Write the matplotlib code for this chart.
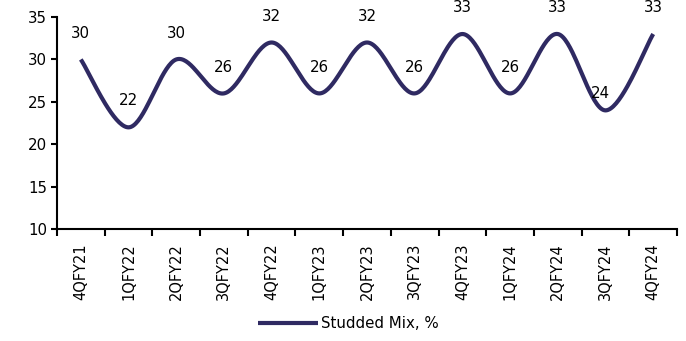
import matplotlib
matplotlib.use('Agg')
import matplotlib.pyplot as plt
import numpy as np

quarters = ['4QFY21', '1QFY22', '2QFY22', '3QFY22', '4QFY22', '1QFY23', '2QFY23',
            '3QFY23', '4QFY23', '1QFY24', '2QFY24', '3QFY24', '4QFY24']
studded_mix = [30, 22, 30, 26, 32, 26, 32, 26, 33, 26, 33, 24, 33]

LINE = '#2F2A62'
plt.rcParams['font.family'] = ['DejaVu Sans']


def smooth(xs, ys, steps=40):
    # Catmull-Rom style bezier smoothing (control points at +/- slope/6)
    xs = np.asarray(xs, float)
    ys = np.asarray(ys, float)
    n = len(xs)
    px = np.concatenate([[xs[0]], xs, [xs[-1]]])
    py = np.concatenate([[ys[0]], ys, [ys[-1]]])
    out_x, out_y = [], []
    t = np.linspace(0, 1, steps)
    for i in range(n - 1):
        p0x, p1x, p2x, p3x = px[i], px[i + 1], px[i + 2], px[i + 3]
        p0y, p1y, p2y, p3y = py[i], py[i + 1], py[i + 2], py[i + 3]
        c1x, c1y = p1x + (p2x - p0x) / 6, p1y + (p2y - p0y) / 6
        c2x, c2y = p2x - (p3x - p1x) / 6, p2y - (p3y - p1y) / 6
        bx = (1 - t)**3 * p1x + 3 * (1 - t)**2 * t * c1x + 3 * (1 - t) * t**2 * c2x + t**3 * p2x
        by = (1 - t)**3 * p1y + 3 * (1 - t)**2 * t * c1y + 3 * (1 - t) * t**2 * c2y + t**3 * p2y
        out_x.append(bx)
        out_y.append(by)
    return np.concatenate(out_x), np.concatenate(out_y)


fig = plt.figure(figsize=(6.86, 3.41), dpi=100)
ax = fig.add_axes([0.083, 0.328, 0.904, 0.622])

x = np.arange(len(quarters))
sx, sy = smooth(x, studded_mix)
ax.plot(sx, sy, color=LINE, lw=3, solid_capstyle='butt', label='Studded Mix, %')

for i, (xi, v) in enumerate(zip(x, studded_mix)):
    # the 3QFY24 label sits lower and a touch left, nudged clear of the line
    dx, dy = (-4, 12) if i == 11 else (0, 19)
    ax.annotate(f'{v}', (xi, v), xytext=(dx, dy), textcoords='offset points',
                ha='center', va='center', fontsize=10.8, annotation_clip=False)

ax.set_xlim(-0.5, len(quarters) - 0.5)
ax.set_ylim(10, 35)
ax.set_yticks(range(10, 36, 5))
ax.set_xticks(np.arange(-0.5, len(quarters), 1))
ax.set_xticklabels([])
ax.set_xticks(x, minor=True)
ax.set_xticklabels(quarters, minor=True, rotation=90)
ax.tick_params(axis='x', which='minor', length=0, pad=10, labelsize=10.5)
ax.tick_params(axis='x', which='major', length=5, width=1.5, direction='out')
ax.tick_params(axis='y', length=4, width=1.5, labelsize=10.8, pad=3)

for s in ['top', 'right']:
    ax.spines[s].set_visible(False)
for s in ['left', 'bottom']:
    ax.spines[s].set_linewidth(1.5)

fig.legend(loc='center', bbox_to_anchor=(0.508, 0.05), frameon=False,
           fontsize=10.8, handlelength=4, handletextpad=0.2)

fig.savefig('out.png', dpi=100, facecolor='white')
